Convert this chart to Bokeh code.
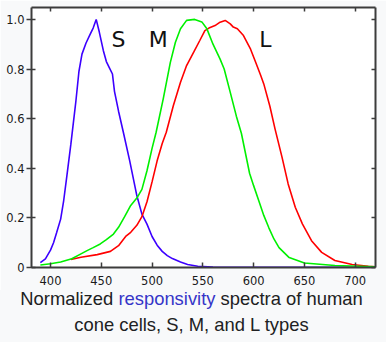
from bokeh.plotting import figure
from bokeh.layouts import column
from bokeh.models import Range1d, LinearAxis, FixedTicker, BoxAnnotation, Label, Div
from bokeh.embed import file_html
from bokeh.resources import INLINE

# ---- data ----
s_wl = [390, 395, 400, 403, 406, 410, 413, 416, 420, 423, 425, 428, 431, 435, 439, 442, 445,
        448, 452, 455, 458, 461, 463, 467, 472, 478, 485, 490, 495, 500, 505, 510, 515, 520,
        528, 535, 545, 560, 600, 650, 700, 720]
s_val = [0.02, 0.035, 0.07, 0.1, 0.14, 0.195, 0.27, 0.365, 0.495, 0.6, 0.67, 0.79, 0.86, 0.905,
         0.94, 0.965, 1.0, 0.95, 0.875, 0.83, 0.805, 0.78, 0.71, 0.63, 0.54, 0.43, 0.29, 0.215,
         0.175, 0.125, 0.09, 0.065, 0.048, 0.036, 0.022, 0.012, 0.005, 0.002, 0.001, 0.001,
         0.001, 0.001]

m_wl = [390, 400, 410, 421, 430, 436, 442, 449, 455, 462, 467, 473, 479, 485, 490, 495, 500, 504,
        511, 518, 523, 528, 534, 542, 549, 554, 560, 567, 571, 577, 583, 588, 596, 600, 605, 610,
        615, 620, 625, 635, 650, 680, 720]
m_val = [0.01, 0.015, 0.022, 0.035, 0.055, 0.068, 0.08, 0.095, 0.112, 0.135, 0.162, 0.205, 0.25,
         0.28, 0.315, 0.39, 0.48, 0.545, 0.68, 0.827, 0.908, 0.962, 0.996, 1.0, 0.99, 0.962, 0.9,
         0.84, 0.8, 0.706, 0.61, 0.54, 0.38, 0.33, 0.27, 0.21, 0.16, 0.115, 0.08, 0.04, 0.018,
         0.008, 0.003]

l_wl = [420, 430, 446, 459, 467, 474, 479, 485, 490, 495, 500, 505, 510, 514, 521, 528, 534, 541,
        547, 552, 556, 562, 567, 572, 577, 580, 584, 590, 597, 602, 607, 610, 616, 621, 628, 634,
        641, 648, 657, 667, 680, 697, 713, 720]
l_val = [0.032, 0.041, 0.052, 0.065, 0.088, 0.125, 0.142, 0.17, 0.205, 0.265, 0.345, 0.43, 0.5,
         0.545, 0.653, 0.747, 0.814, 0.868, 0.915, 0.955, 0.965, 0.975, 0.989, 0.996, 0.982, 0.969,
         0.962, 0.935, 0.88, 0.827, 0.774, 0.74, 0.65, 0.56, 0.444, 0.337, 0.243, 0.176, 0.108,
         0.061, 0.028, 0.012, 0.005, 0.003]

x_ticks = [400, 450, 500, 550, 600, 650, 700]
y_ticks = [0, 0.2, 0.4, 0.6, 0.8, 1.0]
y_tick_labels = ["0", "0.2", "0.4", "0.6", "0.8", "1.0"]
cone_names = ["S", "M", "L"]
caption_1 = ["Normalized", "responsivity", "spectra of human"]
caption_2 = "cone cells, S, M, and L types"

AXIS_COLOR = "#3c3c3c"
TICK_FONT = "DejaVu Sans"
PAGE_BG = "#f8f9fa"

X0, X1 = 381.3, 720.0
Y0, Y1 = 0.0, 1.048
W = 386
H1 = 290                      # chart figure height
H2 = 342 - H1                 # caption height
FL, FR, FT, FB = 31, 375, 7, 267   # frame edges in pixels

p = figure(width=W, height=H1, output_backend="svg", toolbar_location=None,
           x_range=Range1d(X0, X1), y_range=Range1d(Y0, Y1),
           min_border_left=FL, min_border_right=W - FR, min_border_top=FT,
           min_border_bottom=H1 - FB,
           background_fill_color="white", border_fill_color=PAGE_BG,
           outline_line_color=None)
p.grid.visible = False

# white card behind chart + axes
p.add_layout(BoxAnnotation(left=4, right=379, top=4, bottom=287,
                           left_units="canvas", right_units="canvas",
                           top_units="canvas", bottom_units="canvas",
                           fill_color="white", fill_alpha=1.0, line_color=None,
                           level="underlay"))

def style_axis(ax, tick_in, tick_out, labels=True):
    ax.axis_line_color = AXIS_COLOR
    ax.axis_line_width = 2
    ax.major_tick_line_color = AXIS_COLOR
    ax.major_tick_line_width = 1.5
    ax.major_tick_in = tick_in
    ax.major_tick_out = tick_out
    ax.minor_tick_line_color = None
    if labels:
        ax.major_label_text_font = TICK_FONT
        ax.major_label_text_font_size = "11.5px"
        ax.major_label_text_color = "#1a1a1a"
    else:
        ax.major_label_text_font_size = "1px"
        ax.major_label_text_color = None
        ax.major_label_standoff = 0

xb = p.xaxis[0]
xb.ticker = FixedTicker(ticks=x_ticks)
style_axis(xb, 5, 0)
xb.major_label_standoff = 8

yl = p.yaxis[0]
yl.ticker = FixedTicker(ticks=y_ticks)
yl.major_label_overrides = {t: lab for t, lab in zip(y_ticks, y_tick_labels)}
style_axis(yl, 4, 5)
yl.major_label_standoff = 2

xt = LinearAxis(ticker=FixedTicker(ticks=x_ticks))
style_axis(xt, 4, 0, labels=False)
p.add_layout(xt, "above")

yr = LinearAxis(ticker=FixedTicker(ticks=y_ticks))
style_axis(yr, 4, 0, labels=False)
p.add_layout(yr, "right")

# curves
p.line(s_wl, s_val, line_color="#3c00ff", line_width=1.6)
p.line(l_wl, l_val, line_color="#ff0000", line_width=1.6)
p.line(m_wl, m_val, line_color="#00f000", line_width=1.6)

# cone labels
for name, xx in zip(cone_names, [467, 506, 611.5]):
    p.add_layout(Label(x=xx, y=0.92, text=name, text_font="DejaVu Sans",
                       text_font_size="22px", text_color="#111111",
                       text_align="center", text_baseline="middle"))

# ---- caption (HTML text below the chart) ----
line_style = ("width:383px; height:18px; line-height:18px; text-align:center; "
              "font-family:'Liberation Sans', Arial, sans-serif; font-size:18.4px; "
              "color:#202122; white-space:nowrap;")
html = (
    f'<div style="{line_style} margin:0;">'
    f'{caption_1[0]} <span style="color:#3535c8">{caption_1[1]}</span> {caption_1[2]}</div>'
    f'<div style="{line_style} margin:8.3px 0 0 0;">{caption_2}</div>'
)
cap = Div(text=html, width=W, height=H2, margin=0,
          styles={"background-color": PAGE_BG})

layout = column(p, cap, spacing=0)
open("out.html", "w").write(file_html(layout, INLINE))
